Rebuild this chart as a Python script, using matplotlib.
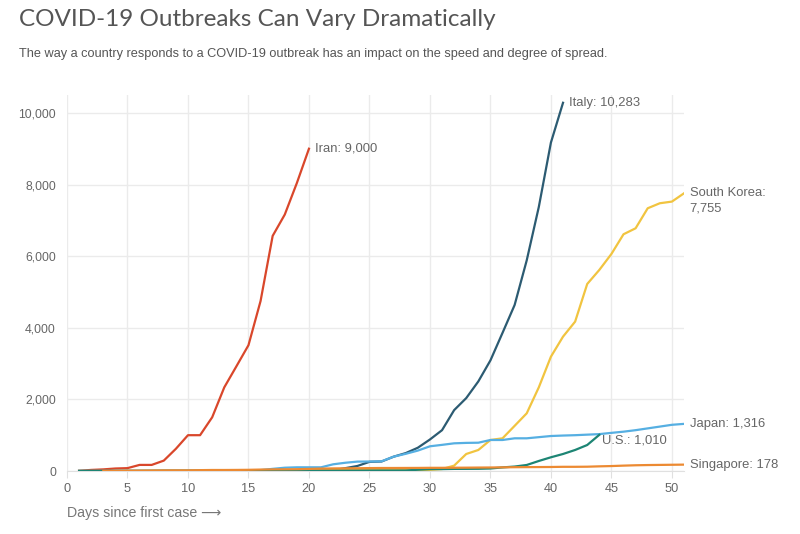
import matplotlib
matplotlib.use("Agg")
import matplotlib.pyplot as plt

# ---------------- data ----------------
iran_days = list(range(1, 21))
iran = [5, 30, 45, 70, 80, 170, 170, 290, 620, 1000, 1000, 1500, 2336, 2922,
        3513, 4747, 6566, 7161, 8042, 9000]

italy_days = list(range(1, 42))
italy = [2, 2, 2, 2, 2, 2, 3, 3, 3, 3, 3, 3, 3, 3, 3, 3, 3, 3, 3, 3, 3,
         20, 79, 140, 255, 265, 400, 500, 650, 880, 1140, 1700, 2036, 2502,
         3089, 3858, 4636, 5883, 7375, 9172, 10283]

korea_days = list(range(1, 52))
korea = [1, 1, 1, 1, 2, 2, 3, 4, 4, 4, 6, 11, 12, 15, 15, 15, 19, 23, 24, 24,
         27, 28, 28, 28, 28, 28, 29, 30, 31, 31, 55, 150, 475, 587, 866, 913,
         1261, 1611, 2337, 3193, 3752, 4171, 5223, 5615, 6061, 6611, 6778,
         7337, 7477, 7523, 7755]

japan_days = list(range(1, 52))
japan = [1, 1, 1, 1, 1, 1, 1, 1, 2, 3, 4, 6, 11, 14, 17, 25, 60, 92, 103, 103,
         103, 187, 230, 262, 265, 270, 400, 480, 570, 690, 730, 773, 785, 790,
         866, 866, 913, 913, 945, 977, 990, 1000, 1015, 1030, 1065, 1098,
         1140, 1190, 1240, 1290, 1316]

us_days = list(range(1, 45))
us = [1, 1, 1, 1, 2, 2, 2, 5, 5, 5, 5, 6, 7, 8, 11, 11, 11, 12, 12, 12, 12,
      12, 13, 13, 14, 14, 14, 15, 35, 53, 53, 59, 60, 62, 70, 100, 124, 168,
      280, 383, 475, 587, 726, 1010]

singapore_days = list(range(3, 52))
singapore = [3, 4, 7, 10, 13, 16, 18, 18, 24, 28, 28, 30, 33, 40, 45, 47, 50,
             58, 67, 72, 75, 77, 81, 84, 84, 85, 86, 89, 89, 91, 93, 96, 98,
             102, 106, 108, 110, 112, 117, 117, 120, 130, 138, 150, 160, 166,
             170, 174, 178]

labels = {
    "Iran": "Iran: 9,000",
    "Italy": "Italy: 10,283",
    "Korea": "South Korea:\n7,755",
    "Japan": "Japan: 1,316",
    "US": "U.S.: 1,010",
    "Singapore": "Singapore: 178",
}

x_ticks = [0, 5, 10, 15, 20, 25, 30, 35, 40, 45, 50]
y_ticks = [0, 2000, 4000, 6000, 8000, 10000]

# ---------------- style ----------------
C_IRAN = "#d9472b"
C_ITALY = "#2c5b72"
C_KOREA = "#f1c440"
C_JAPAN = "#56afe2"
C_US = "#1d8574"
C_SING = "#ec8a32"
TXT = "#666666"

plt.rcParams["font.family"] = ["Liberation Sans", "DejaVu Sans"]

fig = plt.figure(figsize=(8.0, 5.34), dpi=100)
ax = fig.add_axes([67 / 800, 1 - 471 / 534, (684 - 67) / 800, (471 - 95) / 534])

lw = 1.6
ax.plot(iran_days, iran, color=C_IRAN, lw=lw, zorder=3)
ax.plot(italy_days, italy, color=C_ITALY, lw=lw, zorder=3)
ax.plot(korea_days, korea, color=C_KOREA, lw=lw, zorder=3)
ax.plot(japan_days, japan, color=C_JAPAN, lw=lw, zorder=4)
ax.plot(us_days, us, color=C_US, lw=lw, zorder=4)
ax.plot(singapore_days, singapore, color=C_SING, lw=lw, zorder=5)

ax.set_xlim(0, 51)
ax.set_ylim(0, 10500)
ax.set_xticks(x_ticks)
ax.set_yticks(y_ticks)
ax.set_yticklabels([f"{v:,}" for v in y_ticks])
ax.grid(True, color="#ebebeb", lw=1.0, zorder=0)
ax.set_axisbelow(True)
for s in ["top", "right", "left"]:
    ax.spines[s].set_visible(False)
ax.spines["bottom"].set_color("#e0e0e0")
ax.tick_params(axis="y", length=0, pad=8, labelsize=8.8, labelcolor=TXT)
ax.tick_params(axis="x", length=5, color="#e0e0e0", pad=4, labelsize=9.2,
               labelcolor=TXT)

# end labels
fs = 9.4
ax.annotate(labels["Iran"], (iran_days[-1], iran[-1]), xytext=(4, 0),
            textcoords="offset points", va="center", ha="left", fontsize=fs, color=TXT)
ax.annotate(labels["Italy"], (italy_days[-1], italy[-1]), xytext=(4, 0),
            textcoords="offset points", va="center", ha="left", fontsize=fs, color=TXT)
ax.annotate(labels["Korea"], (korea_days[-1], korea[-1]), xytext=(4, 4.5),
            textcoords="offset points", va="top", ha="left", fontsize=fs, color=TXT,
            linespacing=1.4)
ax.annotate(labels["Japan"], (japan_days[-1], japan[-1]), xytext=(4, 0),
            textcoords="offset points", va="center", ha="left", fontsize=fs, color=TXT)
ax.annotate(labels["US"], (us_days[-1], us[-1]), xytext=(2, -4),
            textcoords="offset points", va="center", ha="left", fontsize=fs, color=TXT)
ax.annotate(labels["Singapore"], (singapore_days[-1], singapore[-1]), xytext=(4, 0),
            textcoords="offset points", va="center", ha="left", fontsize=fs, color=TXT)

ax.annotate("Days since first case \u27f6", (0, 0), xycoords="axes fraction",
            xytext=(0, -30), textcoords="offset points", ha="left", va="center",
            fontsize=10.2, color="#777777",
            family=["Liberation Sans", "DejaVu Sans"])

fig.text(19 / 800, 1 - 20 / 534, "COVID-19 Outbreaks Can Vary Dramatically",
         fontsize=17.5, color="#555555", va="center", ha="left",
         family=["Lato", "DejaVu Sans"], fontweight="normal")
fig.text(19 / 800, 1 - 54 / 534,
         "The way a country responds to a COVID-19 outbreak has an impact on the speed and degree of spread.",
         fontsize=9.15, color="#555555", va="center", ha="left")

fig.savefig("out.png", dpi=100, facecolor="white")
